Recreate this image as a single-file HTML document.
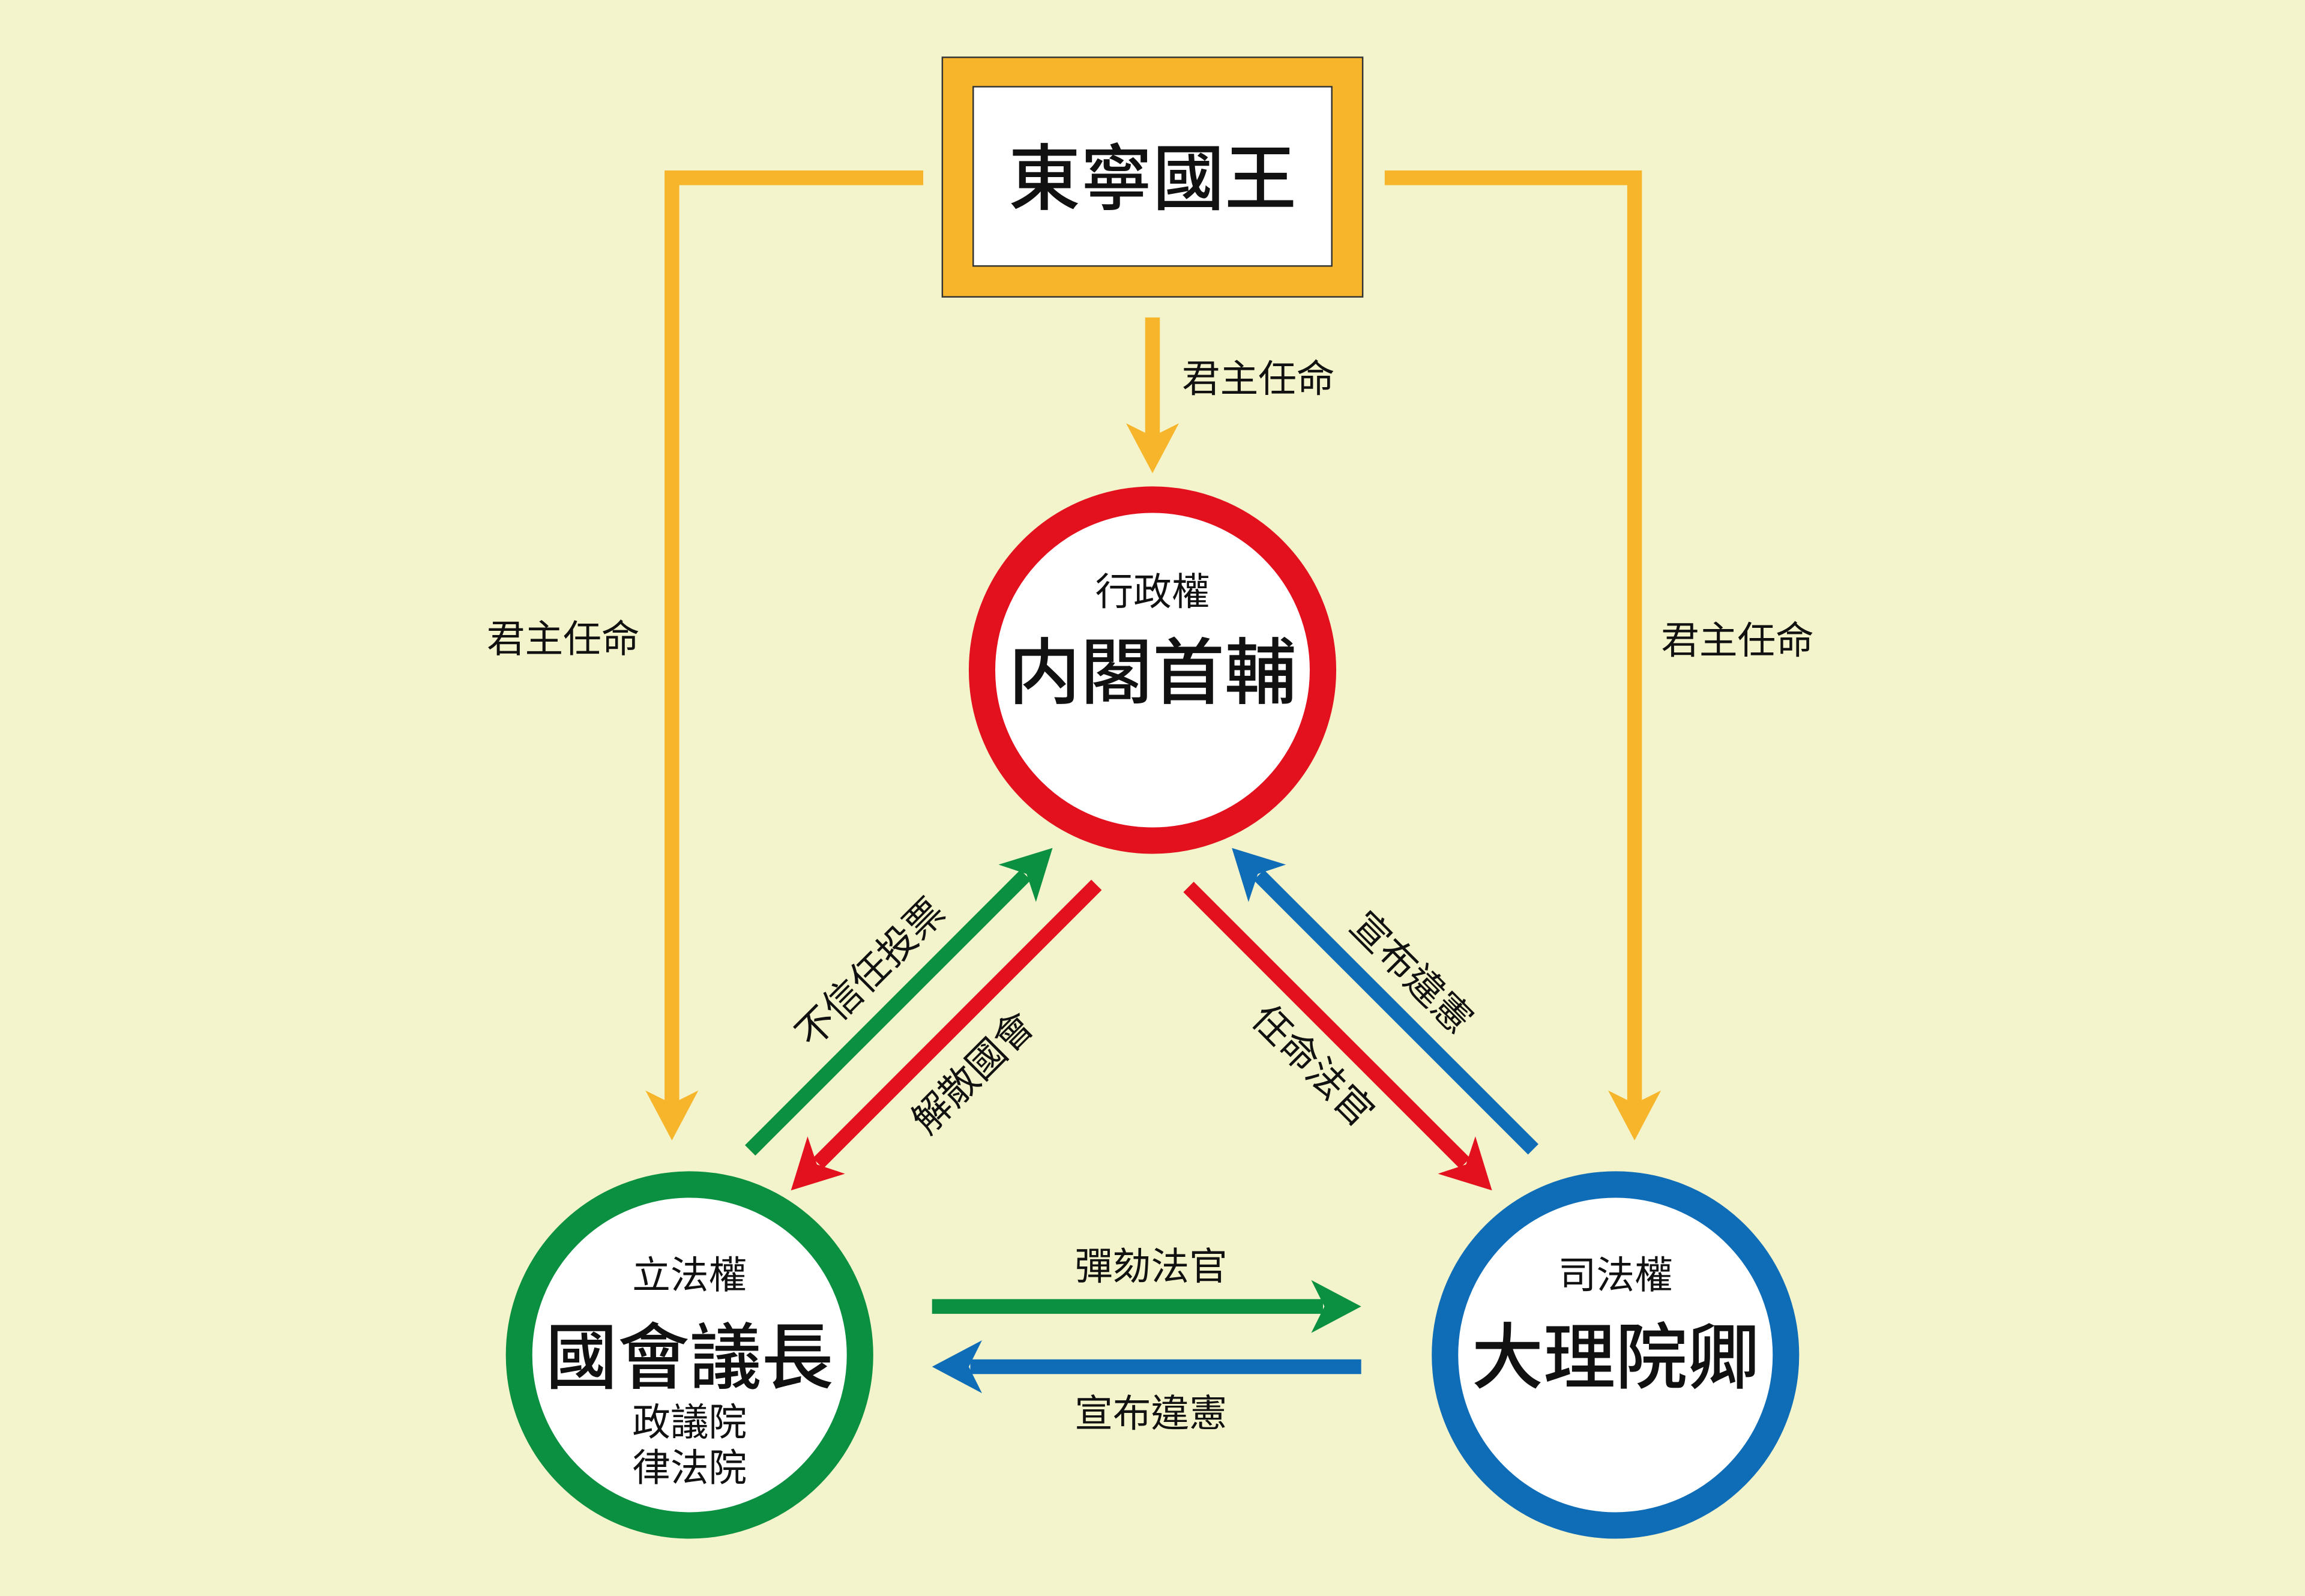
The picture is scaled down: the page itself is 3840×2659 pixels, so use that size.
<!DOCTYPE html>
<html><head><meta charset="utf-8"><style>
html,body{margin:0;padding:0;background:#f3f4cb;}
svg{display:block;}
text{font-family:"Liberation Sans","Noto Sans CJK TC",sans-serif;fill:#111;}
.big{font-size:49px;font-weight:500;}
</style></head><body>
<svg width="3840" height="2659" viewBox="0 0 1568 1086" xmlns="http://www.w3.org/2000/svg">
<defs>
<path id="hd" d="M0,0 L-34,-18 L-25,0 L-34,18 Z"/>
</defs>
<rect width="1568" height="1086" fill="#f3f4cb"/>

<rect x="641" y="39" width="286" height="163" fill="#f7b52c" stroke="#333" stroke-width="1"/>
<rect x="662" y="59" width="244" height="122" fill="#fff" stroke="#333" stroke-width="1"/>
<text class="big" x="784" y="122" text-anchor="middle" dominant-baseline="central">東寧國王</text>

<g fill="#f7b52c" stroke="#f7b52c">
<line x1="784" y1="216" x2="784" y2="300" stroke-width="10"/>
<use href="#hd" transform="translate(784,322) rotate(90)" stroke="none"/>
<polyline points="628,121 457,121 457,752" fill="none" stroke-width="10"/>
<use href="#hd" transform="translate(457,776) rotate(90)" stroke="none"/>
<polyline points="942,121 1112,121 1112,752" fill="none" stroke-width="10"/>
<use href="#hd" transform="translate(1112,776) rotate(90)" stroke="none"/>
</g>
<text x="856" y="258" font-size="26" text-anchor="middle" dominant-baseline="central">君主任命</text>
<text x="383" y="435" font-size="26" text-anchor="middle" dominant-baseline="central">君主任命</text>
<text x="1182" y="436" font-size="26" text-anchor="middle" dominant-baseline="central">君主任命</text>

<circle cx="784" cy="456" r="116" fill="#fff" stroke="#e3101e" stroke-width="18"/>
<text x="784" y="403" font-size="26" text-anchor="middle" dominant-baseline="central">行政權</text>
<text class="big" x="784" y="458" text-anchor="middle" dominant-baseline="central">内閣首輔</text>

<circle cx="469" cy="922" r="116" fill="#fff" stroke="#0a9040" stroke-width="18"/>
<text x="469" y="868" font-size="26" text-anchor="middle" dominant-baseline="central">立法權</text>
<text class="big" x="469" y="924" text-anchor="middle" dominant-baseline="central">國會議長</text>
<text x="469" y="968" font-size="26" text-anchor="middle" dominant-baseline="central">政議院</text>
<text x="469" y="999" font-size="26" text-anchor="middle" dominant-baseline="central">律法院</text>

<circle cx="1099" cy="922" r="116" fill="#fff" stroke="#0f6db8" stroke-width="18"/>
<text x="1099" y="868" font-size="26" text-anchor="middle" dominant-baseline="central">司法權</text>
<text class="big" x="1099" y="924" text-anchor="middle" dominant-baseline="central">大理院卿</text>

<g transform="translate(716,577) rotate(-45)" fill="#0a9040">
<line x1="-291" y1="0" x2="-26" y2="0" stroke="#0a9040" stroke-width="10"/><use href="#hd"/></g>
<g transform="translate(538,810) rotate(135)" fill="#e3101e">
<line x1="-294" y1="0" x2="-26" y2="0" stroke="#e3101e" stroke-width="10"/><use href="#hd"/></g>
<g transform="translate(1015,810) rotate(45)" fill="#e3101e">
<line x1="-292" y1="0" x2="-26" y2="0" stroke="#e3101e" stroke-width="10"/><use href="#hd"/></g>
<g transform="translate(838,577) rotate(-135)" fill="#0f6db8">
<line x1="-290" y1="0" x2="-26" y2="0" stroke="#0f6db8" stroke-width="10"/><use href="#hd"/></g>

<text font-size="26" text-anchor="middle" dominant-baseline="central" transform="translate(592,662) rotate(-45)">不信任投票</text>
<text font-size="26" text-anchor="middle" dominant-baseline="central" transform="translate(662,730) rotate(-45)">解散國會</text>
<text font-size="26" text-anchor="middle" dominant-baseline="central" transform="translate(893,725) rotate(45)">任命法官</text>
<text font-size="26" text-anchor="middle" dominant-baseline="central" transform="translate(960,662) rotate(45)">宣布違憲</text>

<g transform="translate(926,889)" fill="#0a9040">
<line x1="-292" y1="0" x2="-26" y2="0" stroke="#0a9040" stroke-width="10"/><use href="#hd"/></g>
<g transform="translate(634,930) rotate(180)" fill="#0f6db8">
<line x1="-292" y1="0" x2="-26" y2="0" stroke="#0f6db8" stroke-width="10"/><use href="#hd"/></g>
<text x="783" y="862" font-size="26" text-anchor="middle" dominant-baseline="central">彈劾法官</text>
<text x="783" y="962" font-size="26" text-anchor="middle" dominant-baseline="central">宣布違憲</text>
</svg>
</body></html>
